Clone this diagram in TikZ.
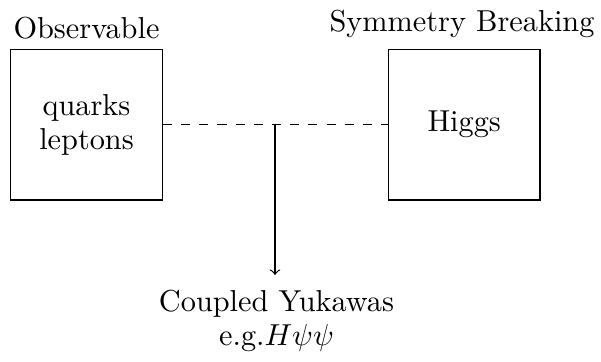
\documentclass[tikz,border=0pt]{standalone}
\usetikzlibrary{positioning}
\tikzset{
  block/.style={draw, minimum width=151.6*0.33pt, minimum height=150.5*0.33pt, inner sep=0pt},
  caption/.style={font=\fontsize{10pt}{11.1pt}\selectfont, align=center},
  link/.style={dashed},
  flow/.style={->}
}
\begin{document}
\begin{tikzpicture}[x=0.33pt, y=-0.33pt, font=\fontsize{10pt}{11.1pt}\selectfont]
  \useasboundingbox (0,0) rectangle (601,361);
  % the two sectors
  \node[block, caption] (obs) at (86.5,124.75) {quarks\\leptons};
  \node[block, caption] (sb) at (464.2,124.75) {Higgs};
  \node[anchor=base] (obslabel) at (86.5,38.3) {Observable};
  \node[anchor=base] (sblabel) at (462,31.7) {Symmetry Breaking};
  % coupling between them
  \draw[link] (obs.east) -- (sb.west);
  \coordinate (mid) at (275,124.75);
  % result
  \node[caption, anchor=base] (yuk) at (276.5,345) {Coupled Yukawas\\e.g.$H\psi\psi$};
  \coordinate (tip) at (275,275);
  \draw[flow] (mid) -- (tip);
\end{tikzpicture}
\end{document}
